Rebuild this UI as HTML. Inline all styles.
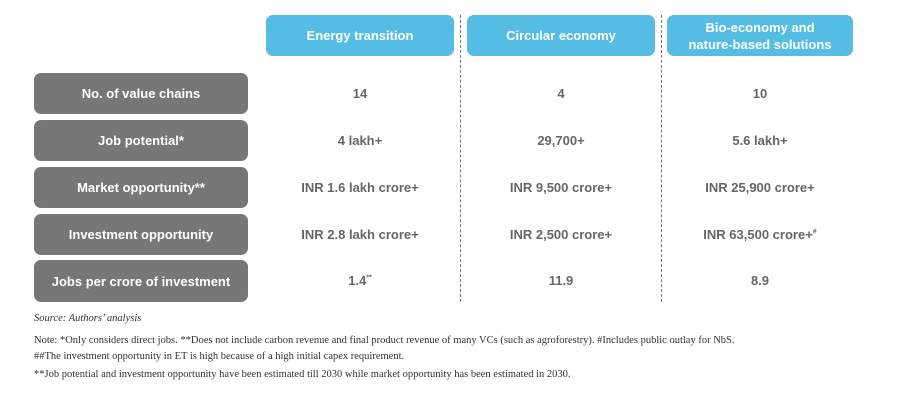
<!DOCTYPE html>
<html><head><meta charset="utf-8"><style>
body{margin:0;width:898px;height:405px;background:#fff;font-family:"Liberation Sans",sans-serif;position:relative;overflow:hidden}
.a{position:absolute;box-sizing:border-box}
.hd{background:#55bde4;color:#fff;border-radius:7px;display:flex;align-items:center;justify-content:center;text-align:center;font-size:13px;font-weight:bold;line-height:17px}
.rl{background:#777;color:#fff;border-radius:7px;display:flex;align-items:center;justify-content:center;font-size:13px;font-weight:bold;left:34px;width:214px}
.v{color:#666;font-size:13px;font-weight:bold;text-align:center;width:188px}
.dl{border-left:1px dashed #777;width:0;top:15px;height:287px}
.n{font-family:"Liberation Serif",serif;color:#333;font-size:10.5px;left:34px}
</style></head><body>
<div class="a hd" style="left:266px;top:15px;width:188px;height:41px">Energy transition</div>
<div class="a hd" style="left:467px;top:15px;width:188px;height:41px">Circular economy</div>
<div class="a hd" style="left:667px;top:15px;width:186px;height:41px">Bio-economy and<br>nature-based solutions</div>
<div class="a dl" style="left:460px"></div>
<div class="a dl" style="left:661px"></div>
<div id="rows"></div>
<div class="a n" style="top:313px;font-style:italic">Source: Authors’ analysis</div>
<div class="a n" style="top:333px;line-height:16px;width:840px">Note: *Only considers direct jobs. **Does not include carbon revenue and final product revenue of many VCs (such as agroforestry). #Includes public outlay for NbS.<br>##The investment opportunity in ET is high because of a high initial capex requirement.</div>
<div class="a n" style="top:369px">**Job potential and investment opportunity have been estimated till 2030 while market opportunity has been estimated in 2030.</div>
<script>
const labels=["No. of value chains","Job potential*","Market opportunity**","Investment opportunity","Jobs per crore of investment"];
const energy=["14","4 lakh+","INR 1.6 lakh crore+","INR 2.8 lakh crore+","1.4<sup style='font-size:7px'>**</sup>"];
const circular=["4","29,700+","INR 9,500 crore+","INR 2,500 crore+","11.9"];
const bio=["10","5.6 lakh+","INR 25,900 crore+","INR 63,500 crore+<sup style='font-size:7px'>#</sup>","8.9"];
const tops=[73,120,167,214,260],hs=[41,41,41,41,42];
const root=document.getElementById('rows');
labels.forEach((l,i)=>{
 const d=document.createElement('div');d.className='a rl';
 d.style.top=tops[i]+'px';d.style.height=hs[i]+'px';d.textContent=l;
 
 
 root.appendChild(d);
 [[energy,266],[circular,467],[bio,666]].forEach(([arr,x])=>{
  const c=document.createElement('div');c.className='a v';
  c.style.left=x+'px';c.style.top=(tops[i]+hs[i]/2-8)+'px';c.innerHTML=arr[i];
  
  
  root.appendChild(c);
 });
});
</script>
</body></html>
